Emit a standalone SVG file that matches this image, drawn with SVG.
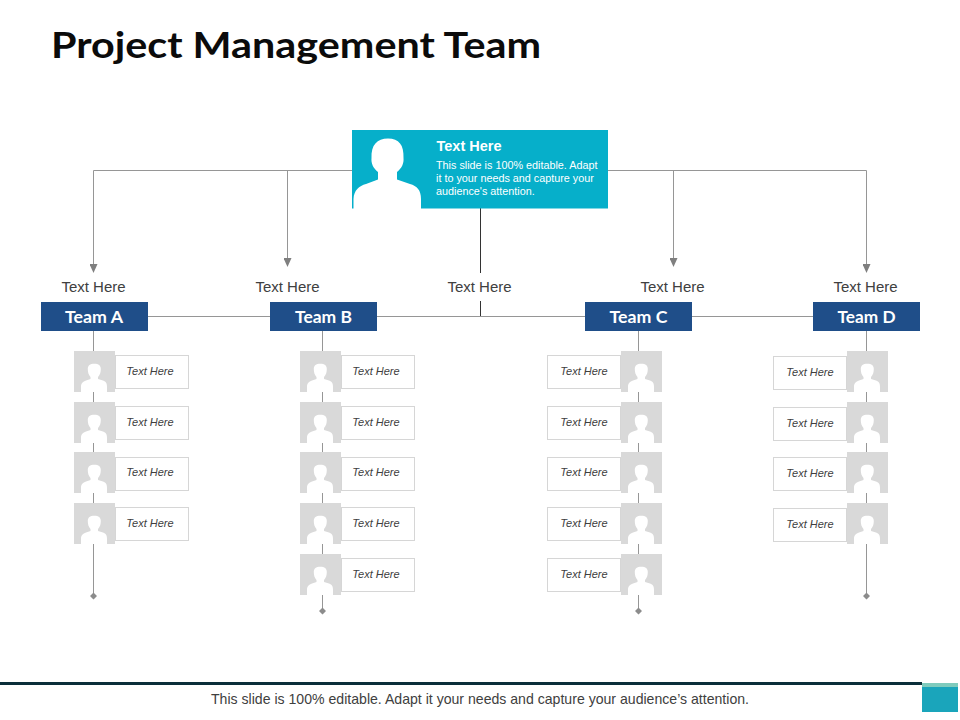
<svg xmlns="http://www.w3.org/2000/svg" xmlns:xlink="http://www.w3.org/1999/xlink" width="960" height="720" viewBox="0 0 960 720">
<style>
.s{font-family:"Liberation Sans",Arial,sans-serif}
.title{font-family:Lato,"Liberation Sans",sans-serif;font-weight:700;font-size:37px;fill:#0b0b0b}
.team{font-family:Lato,"Liberation Sans",sans-serif;font-weight:700;font-size:17px;fill:#fff;text-anchor:middle}
.lab{font-size:15px;fill:#404040;text-anchor:middle}
.it{font-size:11px;font-style:italic;fill:#404040;text-anchor:middle}
.box{fill:#fff;stroke:#d6d6d6;stroke-width:1}
.tb{fill:#1f4e89}
.ln{stroke:#969696;stroke-width:1;fill:none}
.tile{fill:#d9d9d9}
.sil{fill:#fff}
.end{fill:#8c8c8c}
</style>
<defs>
<marker id="arr" markerWidth="9" markerHeight="8" refX="8" refY="4" orient="auto" markerUnits="userSpaceOnUse"><path d="M0 0L9 4L0 8Z" fill="#7f7f7f"/></marker>
<g id="p"><rect class="tile" width="41" height="41"/><path class="sil" d="M7 41V36C7 32 9 30.500 12 29.500L16.500 28V26C14.500 24 13.800 21 13.800 18C13.800 14.500 16 12.800 20.300 12.800C24.500 12.800 26.800 14.500 26.800 18C26.800 21 26 24 24 26V28L29 29.500C32 30.500 33 32 33 36V41Z"/></g>
</defs>
<text class="title" x="51" y="58" textLength="490" lengthAdjust="spacingAndGlyphs">Project Management Team</text>
<g id="connectors">
<path class="ln" d="M352 170.500H93.500V272" marker-end="url(#arr)"/>
<path class="ln" d="M287.500 170.500V266" marker-end="url(#arr)"/>
<path class="ln" d="M608 170.500H866.500V272" marker-end="url(#arr)"/>
<path class="ln" d="M673.500 170.500V266" marker-end="url(#arr)"/>
<path d="M480.500 208V273M480.500 301V317" stroke="#333" stroke-width="1" fill="none"/>
<path class="ln" d="M148 316.500H813"/>
<path class="ln" d="M93.500 331V596M322.500 331V611M638.500 331V611M866.500 331V596"/>
<path class="end" d="M93.500 592.500l3.500 3.500l-3.500 3.500l-3.500-3.500ZM322.500 607.500l3.500 3.500l-3.500 3.500l-3.500-3.500ZM638.500 607.500l3.500 3.500l-3.500 3.500l-3.500-3.500ZM866.500 592.500l3.500 3.500l-3.500 3.500l-3.500-3.500Z"/>
</g>
<g id="lead" class="s">
<rect x="352" y="130" width="256" height="78.500" fill="#06afca"/>
<path fill="#fff" d="M353.500 209V199C354 190 359 186 366 184L378 179.500V172C373 168 371 163 371.500 158C371 145 377 138.500 388 138.500C399 138.500 404 145 403.500 158C404 163 402 168 397 172V179.500L410 184C417 186 421 190 421 199V209Z"/>
<text x="436.500" y="150.500" font-size="14.500px" font-weight="700" fill="#fff">Text Here</text>
<text font-size="10.800px" fill="#fff"><tspan x="436" y="169">This slide is 100% editable.  Adapt</tspan><tspan x="436" y="182">it to your needs and capture your</tspan><tspan x="436" y="195">audience's attention.</tspan></text>
</g>
<g class="s">
<text class="lab" x="93.500" y="291.500">Text Here</text>
<text class="lab" x="287.500" y="291.500">Text Here</text>
<text class="lab" x="479.500" y="291.500">Text Here</text>
<text class="lab" x="672.500" y="291.500">Text Here</text>
<text class="lab" x="865.500" y="291.500">Text Here</text>
</g>
<g id="team-a"><rect class="tb" x="41" y="302" width="107" height="29"/><text class="team" x="94" y="322.500" textLength="58" lengthAdjust="spacingAndGlyphs">Team A</text></g>
<g id="team-b"><rect class="tb" x="270" y="302" width="107" height="29"/><text class="team" x="323.500" y="322.500" textLength="57" lengthAdjust="spacingAndGlyphs">Team B</text></g>
<g id="team-c"><rect class="tb" x="585" y="302" width="107" height="29"/><text class="team" x="638.500" y="322.500" textLength="58" lengthAdjust="spacingAndGlyphs">Team C</text></g>
<g id="team-d"><rect class="tb" x="813" y="302" width="107" height="29"/><text class="team" x="866.500" y="322.500" textLength="58" lengthAdjust="spacingAndGlyphs">Team D</text></g>
<g id="a-members" class="s">
<rect class="box" x="115.500" y="355.500" width="73" height="33"/><use xlink:href="#p" href="#p" x="74" y="351"/><text class="it" x="150" y="374.500">Text Here</text>
<rect class="box" x="115.500" y="406.500" width="73" height="33"/><use xlink:href="#p" href="#p" x="74" y="402"/><text class="it" x="150" y="425.500">Text Here</text>
<rect class="box" x="115.500" y="457.500" width="73" height="33"/><use xlink:href="#p" href="#p" x="74" y="452"/><text class="it" x="150" y="475.500">Text Here</text>
<rect class="box" x="115.500" y="507.500" width="73" height="33"/><use xlink:href="#p" href="#p" x="74" y="503"/><text class="it" x="150" y="526.500">Text Here</text>
</g>
<g id="b-members" class="s">
<rect class="box" x="341.500" y="355.500" width="73" height="33"/><use xlink:href="#p" href="#p" x="300" y="351"/><text class="it" x="376" y="374.500">Text Here</text>
<rect class="box" x="341.500" y="406.500" width="73" height="33"/><use xlink:href="#p" href="#p" x="300" y="402"/><text class="it" x="376" y="425.500">Text Here</text>
<rect class="box" x="341.500" y="457.500" width="73" height="33"/><use xlink:href="#p" href="#p" x="300" y="452"/><text class="it" x="376" y="475.500">Text Here</text>
<rect class="box" x="341.500" y="507.500" width="73" height="33"/><use xlink:href="#p" href="#p" x="300" y="503"/><text class="it" x="376" y="526.500">Text Here</text>
<rect class="box" x="341.500" y="558.500" width="73" height="33"/><use xlink:href="#p" href="#p" x="300" y="554"/><text class="it" x="376" y="577.500">Text Here</text>
</g>
<g id="c-members" class="s">
<rect class="box" x="547.500" y="355.500" width="73" height="33"/><use xlink:href="#p" href="#p" x="621" y="351"/><text class="it" x="584" y="374.500">Text Here</text>
<rect class="box" x="547.500" y="406.500" width="73" height="33"/><use xlink:href="#p" href="#p" x="621" y="402"/><text class="it" x="584" y="425.500">Text Here</text>
<rect class="box" x="547.500" y="457.500" width="73" height="33"/><use xlink:href="#p" href="#p" x="621" y="452"/><text class="it" x="584" y="475.500">Text Here</text>
<rect class="box" x="547.500" y="507.500" width="73" height="33"/><use xlink:href="#p" href="#p" x="621" y="503"/><text class="it" x="584" y="526.500">Text Here</text>
<rect class="box" x="547.500" y="558.500" width="73" height="33"/><use xlink:href="#p" href="#p" x="621" y="554"/><text class="it" x="584" y="577.500">Text Here</text>
</g>
<g id="d-members" class="s">
<rect class="box" x="773.500" y="356.500" width="73" height="33"/><use xlink:href="#p" href="#p" x="847" y="351"/><text class="it" x="810" y="375.500">Text Here</text>
<rect class="box" x="773.500" y="407.500" width="73" height="33"/><use xlink:href="#p" href="#p" x="847" y="402"/><text class="it" x="810" y="426.500">Text Here</text>
<rect class="box" x="773.500" y="457.500" width="73" height="33"/><use xlink:href="#p" href="#p" x="847" y="452"/><text class="it" x="810" y="476.500">Text Here</text>
<rect class="box" x="773.500" y="508.500" width="73" height="33"/><use xlink:href="#p" href="#p" x="847" y="503"/><text class="it" x="810" y="527.500">Text Here</text>
</g>
<g id="footer">
<rect x="0" y="682" width="922" height="3" fill="#0b2f3a"/>
<rect x="922" y="683" width="36" height="29" fill="#1aa5bb"/>
<rect x="922" y="683" width="36" height="4" fill="#7fcbbd"/>
<text class="s" x="480" y="704" font-size="14.100px" fill="#404040" text-anchor="middle">This slide is 100% editable. Adapt it your needs and capture your audience’s attention.</text>
</g>
</svg>
